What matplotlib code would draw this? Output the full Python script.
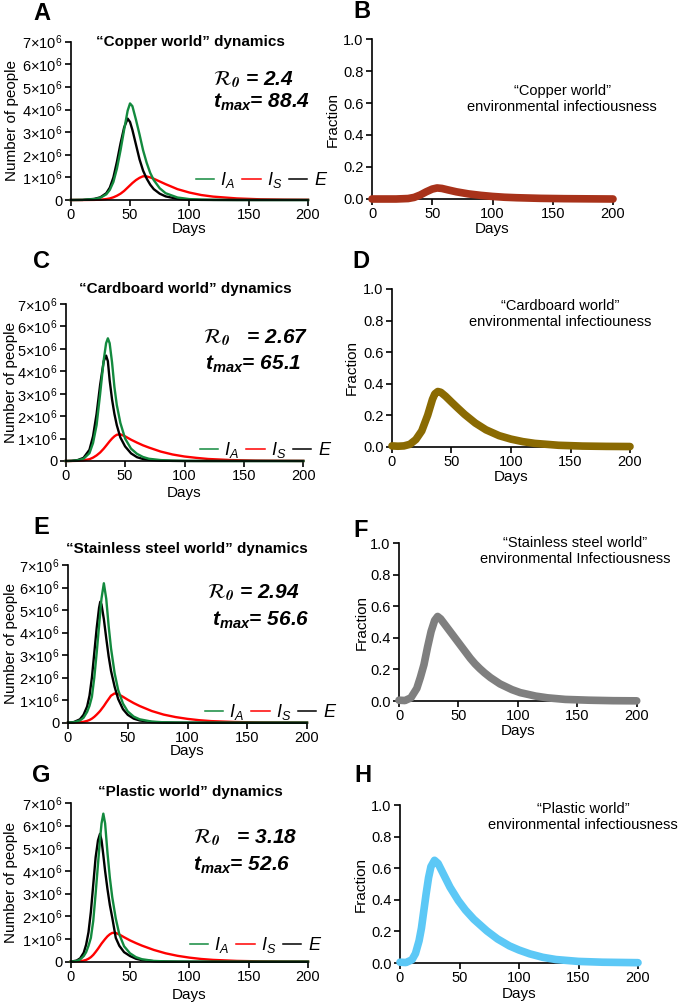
import matplotlib.pyplot as plt

plt.rcParams['font.family'] = ['Liberation Sans', 'DejaVu Sans']
plt.rcParams['mathtext.fontset'] = 'custom'
plt.rcParams['mathtext.rm'] = 'Liberation Sans'
plt.rcParams['mathtext.it'] = 'Liberation Sans:italic'
plt.rcParams['mathtext.bf'] = 'Liberation Sans:bold'
plt.rcParams['mathtext.bfit'] = 'Liberation Sans:italic:bold'

W, H = 680, 1005

# ---- data (people in millions) ----
days_a = [0, 10, 20, 25, 30, 33, 36, 39, 42, 45, 48, 50, 52, 55, 58, 61, 64, 67, 70, 75, 80, 90, 100, 110, 120, 140, 160, 180, 200]
ia_a = [0, 0.005, 0.04, 0.1, 0.25, 0.45, 0.8, 1.4, 2.2, 3.1, 3.95, 4.27, 4.15, 3.55, 2.9, 2.2, 1.65, 1.2, 0.88, 0.52, 0.3, 0.11, 0.04, 0.015, 0.006, 0.001, 0, 0, 0]
is_a = [0, 0, 0.005, 0.015, 0.04, 0.07, 0.12, 0.19, 0.28, 0.4, 0.55, 0.65, 0.75, 0.88, 0.98, 1.05, 1.04, 1.0, 0.94, 0.82, 0.7, 0.48, 0.33, 0.22, 0.15, 0.07, 0.03, 0.015, 0.008]
e_a = [0, 0.005, 0.05, 0.12, 0.3, 0.55, 1.0, 1.7, 2.5, 3.2, 3.6, 3.45, 3.1, 2.45, 1.8, 1.3, 0.95, 0.68, 0.48, 0.28, 0.16, 0.05, 0.015, 0.005, 0.002, 0, 0, 0, 0]

days_c = [0, 5, 10, 15, 20, 23, 26, 29, 32, 34, 35.5, 37, 39, 41, 43, 46, 50, 55, 60, 65, 70, 80, 90, 100, 110, 120, 140, 160, 180, 200]
ia_c = [0, 0.005, 0.03, 0.1, 0.35, 0.8, 1.6, 3.0, 4.5, 5.25, 5.47, 5.25, 4.4, 3.3, 2.5, 1.7, 1.0, 0.55, 0.32, 0.18, 0.1, 0.04, 0.015, 0.005, 0.002, 0, 0, 0, 0, 0]
is_c = [0, 0.002, 0.008, 0.03, 0.08, 0.15, 0.25, 0.38, 0.55, 0.68, 0.78, 0.88, 1.0, 1.1, 1.17, 1.19, 1.1, 0.95, 0.82, 0.7, 0.6, 0.42, 0.29, 0.2, 0.14, 0.09, 0.04, 0.017, 0.008, 0.004]
e_c = [0, 0.008, 0.04, 0.14, 0.5, 1.1, 2.1, 3.4, 4.45, 4.7, 4.45, 3.6, 2.75, 2.1, 1.6, 1.05, 0.65, 0.34, 0.17, 0.09, 0.05, 0.015, 0.005, 0, 0, 0, 0, 0, 0, 0]

days_e = [0, 5, 10, 13, 16, 18, 20, 22, 24, 26, 27, 28, 30, 32, 34, 36, 39, 42, 46, 50, 55, 60, 70, 80, 90, 100, 110, 120, 140, 160, 180, 200]
ia_e = [0, 0.02, 0.1, 0.22, 0.48, 0.75, 1.15, 2.0, 3.1, 4.3, 4.9, 5.5, 6.19, 5.5, 4.3, 3.3, 2.2, 1.45, 0.85, 0.5, 0.27, 0.15, 0.05, 0.018, 0.006, 0.002, 0, 0, 0, 0, 0, 0]
is_e = [0, 0.005, 0.02, 0.04, 0.08, 0.12, 0.18, 0.26, 0.36, 0.47, 0.53, 0.6, 0.74, 0.9, 1.05, 1.2, 1.3, 1.27, 1.15, 1.02, 0.87, 0.74, 0.52, 0.36, 0.25, 0.17, 0.11, 0.07, 0.03, 0.012, 0.005, 0.002]
e_e = [0, 0.03, 0.15, 0.35, 0.72, 1.2, 2.0, 3.1, 4.2, 5.1, 5.37, 5.25, 4.6, 3.75, 2.95, 2.3, 1.6, 1.05, 0.6, 0.35, 0.18, 0.1, 0.03, 0.01, 0.003, 0, 0, 0, 0, 0, 0, 0]

days_g = [0, 5, 8, 11, 13, 15, 17, 19, 21, 23, 24.7, 26, 27.5, 29, 31, 33, 35, 38, 41, 45, 50, 55, 60, 70, 80, 90, 100, 110, 120, 140, 160, 180, 200]
ia_g = [0, 0.03, 0.1, 0.25, 0.42, 0.7, 1.05, 1.8, 3.0, 4.3, 5.4, 6.1, 6.53, 6.1, 4.8, 3.7, 2.85, 1.9, 1.2, 0.68, 0.37, 0.2, 0.11, 0.035, 0.012, 0.004, 0, 0, 0, 0, 0, 0, 0]
is_g = [0, 0.01, 0.02, 0.05, 0.08, 0.13, 0.2, 0.3, 0.43, 0.57, 0.7, 0.8, 0.9, 1.0, 1.12, 1.21, 1.27, 1.27, 1.2, 1.08, 0.94, 0.82, 0.71, 0.52, 0.37, 0.26, 0.18, 0.12, 0.08, 0.035, 0.015, 0.006, 0.003]
e_g = [0, 0.05, 0.15, 0.4, 0.75, 1.3, 2.2, 3.4, 4.6, 5.35, 5.64, 5.35, 4.7, 4.0, 3.2, 2.5, 1.95, 1.05, 0.7, 0.42, 0.25, 0.13, 0.07, 0.022, 0.007, 0.002, 0, 0, 0, 0, 0, 0, 0]

# environmental infectiousness (fraction)
days_b = [0, 20, 30, 35, 40, 45, 50, 54, 58, 63, 70, 80, 90, 100, 110, 120, 140, 160, 180, 200]
frac_b = [0, 0, 0.003, 0.01, 0.025, 0.045, 0.062, 0.069, 0.066, 0.057, 0.045, 0.032, 0.023, 0.016, 0.011, 0.008, 0.004, 0.002, 0.001, 0]
days_d = [0, 5, 10, 15, 20, 25, 30, 34, 36, 38.5, 41, 45, 50, 55, 61, 70, 79, 90, 100, 110, 120, 140, 160, 180, 200]
frac_d = [0.005, 0.003, 0.005, 0.015, 0.045, 0.1, 0.2, 0.3, 0.335, 0.35, 0.345, 0.32, 0.283, 0.247, 0.205, 0.15, 0.107, 0.07, 0.048, 0.032, 0.021, 0.009, 0.004, 0.002, 0.001]
days_f = [0, 5, 10, 15, 18, 21, 24, 27, 30, 32.5, 35, 40, 47, 55, 60, 64, 68, 72, 77, 85, 95, 102, 115, 125, 140, 160, 180, 200]
frac_f = [0.005, 0.003, 0.02, 0.08, 0.15, 0.23, 0.34, 0.44, 0.51, 0.535, 0.52, 0.47, 0.4, 0.32, 0.27, 0.235, 0.205, 0.178, 0.148, 0.108, 0.072, 0.053, 0.031, 0.02, 0.01, 0.005, 0.002, 0.001]
days_h = [0, 5, 10, 13, 16, 18, 20, 22, 24, 26, 29, 32, 36, 42, 49, 55, 62, 73, 82, 92, 100, 109, 120, 131, 150, 170, 200]
frac_h = [0.005, 0.003, 0.02, 0.06, 0.14, 0.22, 0.33, 0.44, 0.54, 0.61, 0.65, 0.63, 0.57, 0.48, 0.395, 0.335, 0.277, 0.203, 0.152, 0.108, 0.082, 0.058, 0.036, 0.022, 0.01, 0.005, 0.002]

worlds = ['Copper', 'Cardboard', 'Stainless steel', 'Plastic']
r0_texts = [' = 2.4', '   = 2.67', ' = 2.94', '   = 3.18']
tmax_texts = ['= 88.4', '= 65.1', '= 56.6', '= 52.6']
frac_notes = ['\u201cCopper world\u201d\nenvironmental infectiousness',
              '\u201cCardboard world\u201d\nenvironmental infectiouness',
              '\u201cStainless steel world\u201d\nenvironmental Infectiousness',
              '\u201cPlastic world\u201d\nenvironmental infectiousness']
frac_colors = ['#a8321a', '#8a6a02', '#7f7f7f', '#5cc8f6']

GREEN = '#138a3e'


def fx(x):
    return x / W


def fy(y):
    return 1 - y / H


def box(l, t, r, b):
    return [l / W, 1 - b / H, (r - l) / W, (b - t) / H]


def style(ax):
    for s in ['top', 'right']:
        ax.spines[s].set_visible(False)
    for s in ['left', 'bottom']:
        ax.spines[s].set_linewidth(1.2)
    ax.tick_params(direction='out', length=4, width=1.2, labelsize=10.5, pad=2)
    ax.set_xlim(0, 200)
    ax.set_xticks([0, 50, 100, 150, 200])


def main():
    fig = plt.figure(figsize=(6.8, 10.05), dpi=100)

    dyn = [(days_a, ia_a, is_a, e_a), (days_c, ia_c, is_c, e_c),
           (days_e, ia_e, is_e, e_e), (days_g, ia_g, is_g, e_g)]
    frac = [(days_b, frac_b), (days_d, frac_d), (days_f, frac_f), (days_h, frac_h)]

    # layout in pixels
    dyn_boxes = [(70.7, 41.7, 308, 200), (65.7, 304, 303.3, 461),
                 (68, 565, 307, 722.7), (70.7, 803, 308, 961.7)]
    frac_boxes = [(372, 39, 613, 199), (392, 289, 630, 446.7),
                  (399, 543, 636.7, 701), (400, 805, 638, 963)]
    letters_l = [('A', 42, 14), ('C', 41, 262), ('E', 41, 528), ('G', 41, 775)]
    letters_r = [('B', 362, 12), ('D', 361, 262), ('F', 361, 530), ('H', 363, 775)]
    titles_xy = [(190, 42), (185, 289), (187, 549), (190, 792)]
    r0_xy = [(213, 85), (203, 343), (207, 598), (193, 843)]
    tmax_xy = [(213, 108), (205, 370), (212, 626), (193, 871)]
    leg_xy = [(262, 180), (266, 450), (271, 712), (256, 945)]
    dyn_ylab_x = [12, 11, 11, 11]
    dyn_xlab_y = [229, 493, 751, 995]
    frac_ylab_x = [333, 352, 362, 361]
    frac_xlab_y = [229, 477, 731, 994]
    notes_xy = [(562, 99), (560, 314), (575, 551), (583, 817)]

    ylabels = ['0'] + [r'$%d{\times}10^{6}$' % i for i in range(1, 8)]

    for i in range(4):
        d, ia, i_s, e = dyn[i]
        l, t, r, b = dyn_boxes[i]
        ax = fig.add_axes(box(l, t, r, b))
        style(ax)
        ax.set_ylim(0, 7e6)
        ax.set_yticks([k * 1e6 for k in range(8)])
        ax.set_yticklabels(ylabels)
        ln_s, = ax.plot(d, [v * 1e6 for v in i_s], color='#ff0000', lw=1.7, label=r'$I_S$', clip_on=False)
        ln_e, = ax.plot(d, [v * 1e6 for v in e], color='black', lw=1.7, label=r'$E$', clip_on=False)
        ln_a, = ax.plot(d, [v * 1e6 for v in ia], color=GREEN, lw=1.7, label=r'$I_A$', clip_on=False)
        leg = ax.legend(handles=[ln_a, ln_s, ln_e], loc='center', ncol=3, frameon=False,
                        bbox_to_anchor=(fx(leg_xy[i][0]), fy(leg_xy[i][1])),
                        bbox_transform=fig.transFigure, fontsize=13,
                        handlelength=1.0, handletextpad=0.35, columnspacing=0.4)
        for h in leg.get_lines():
            h.set_linewidth(1.1)

        ax.set_ylabel('Number of people', fontsize=11)
        ax.yaxis.label.set_va('center')
        ax.yaxis.set_label_coords((dyn_ylab_x[i] - l) / (r - l), 0.5)
        ax.set_xlabel('Days', fontsize=11)
        ax.xaxis.label.set_va('center')
        ax.xaxis.set_label_coords(0.5, -(dyn_xlab_y[i] - b) / (b - t))

        fig.text(fx(titles_xy[i][0]), fy(titles_xy[i][1]),
                 '\u201c%s world\u201d dynamics' % worlds[i],
                 fontsize=11, fontweight='bold', ha='center', va='center')
        fig.text(fx(r0_xy[i][0]), fy(r0_xy[i][1]),
                 r'$\mathcal{R}_{\mathbfit{0}}$' + r0_texts[i], math_fontfamily='stix',
                 fontsize=15, fontweight='bold', fontstyle='italic', ha='left', va='baseline')
        fig.text(fx(tmax_xy[i][0]), fy(tmax_xy[i][1]),
                 r'$\mathbfit{t}_{\mathbfit{max}}$' + tmax_texts[i],
                 fontsize=15, fontweight='bold', fontstyle='italic', ha='left', va='baseline')

    for i in range(4):
        d, f = frac[i]
        l, t, r, b = frac_boxes[i]
        ax = fig.add_axes(box(l, t, r, b))
        style(ax)
        ax.set_ylim(0, 1.0)
        ax.set_yticks([0, 0.2, 0.4, 0.6, 0.8, 1.0])
        ax.set_yticklabels(['0.0', '0.2', '0.4', '0.6', '0.8', '1.0'])
        ax.plot(d, f, color=frac_colors[i], lw=5.5, solid_capstyle='round', clip_on=False, zorder=3)

        ax.set_ylabel('Fraction', fontsize=11)
        ax.yaxis.label.set_va('center')
        ax.yaxis.set_label_coords((frac_ylab_x[i] - l) / (r - l), 0.5)
        ax.set_xlabel('Days', fontsize=11)
        ax.xaxis.label.set_va('center')
        ax.xaxis.set_label_coords(0.5, -(frac_xlab_y[i] - b) / (b - t))

        fig.text(fx(notes_xy[i][0]), fy(notes_xy[i][1]), frac_notes[i],
                 fontsize=10.5, ha='center', va='center', linespacing=1.25)

    for name, x, y in letters_l + letters_r:
        fig.text(fx(x), fy(y), name, fontsize=17, fontweight='bold', ha='center', va='center')

    fig.savefig('out.png', dpi=100)


if __name__ == '__main__':
    main()
